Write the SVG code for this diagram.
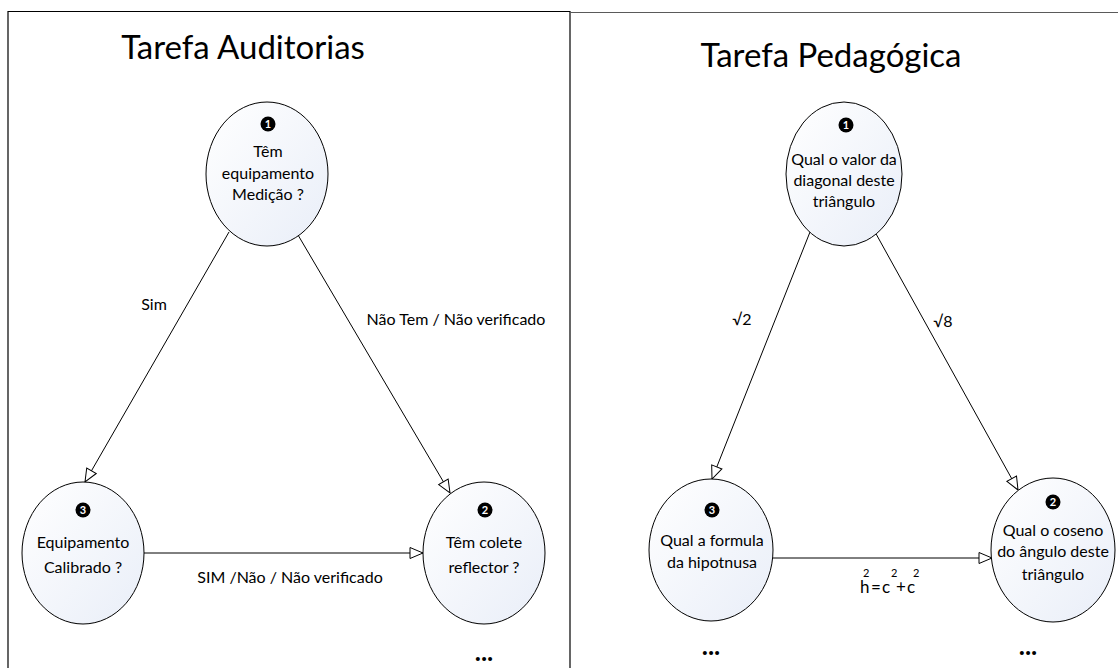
<svg xmlns="http://www.w3.org/2000/svg" width="1118" height="668" viewBox="0 0 1118 668">
  <defs>
    <linearGradient id="nodeFill" x1="0" y1="0" x2="1" y2="1">
      <stop offset="0" stop-color="#ffffff"/>
      <stop offset="1" stop-color="#e9eef8"/>
    </linearGradient>
    <marker id="openArrow" markerUnits="userSpaceOnUse" markerWidth="16" markerHeight="14" refX="14" refY="7" orient="auto">
      <path d="M1,1.5 L14,7 L1,12.5 Z" fill="#ffffff" stroke="#000000" stroke-width="1"/>
    </marker>
    <style>
      .panel { fill: none; stroke: #000000; stroke-width: 1.2; }
      .title { font-family: Lato, "Liberation Sans", sans-serif; font-size: 33px; fill: #000000; text-anchor: middle; }
      .node ellipse { fill: url(#nodeFill); stroke: #000000; stroke-width: 1; }
      .node text { font-family: Lato, "Liberation Sans", sans-serif; font-size: 16px; fill: #000000; text-anchor: middle; }
      .node .badge { fill: #000000; stroke: none; }
      .node text.num { font-size: 11px; font-weight: bold; fill: #ffffff; }
      .edge { stroke: #000000; stroke-width: 1; fill: none; marker-end: url(#openArrow); }
      .label { font-family: Lato, "Liberation Sans", sans-serif; font-size: 16px; fill: #000000; text-anchor: middle; }
      .formula { font-family: Lato, "Liberation Sans", sans-serif; font-size: 17px; fill: #000000; }
      .formula .sup { font-size: 11px; }
      .more { font-family: Lato, "Liberation Sans", sans-serif; font-size: 26px; font-weight: bold; fill: #000000; text-anchor: middle; }
    </style>
  </defs>

  <rect width="1118" height="668" fill="#ffffff"/>

  <!-- panel frames -->
  <path class="panel" d="M8,680 L8,11.5 L570,11.5 L570,680"/>
  <line x1="570" y1="12.5" x2="1118" y2="12.5" stroke="#5a5a5a" stroke-width="1.2"/>

  <text class="title" x="243" y="59">Tarefa Auditorias</text>
  <text class="title" x="831" y="67">Tarefa Pedagógica</text>

  <!-- connectors -->
  <g id="connectors">
    <line class="edge" x1="229" y1="232" x2="85" y2="482"/>
    <line class="edge" x1="298" y1="235" x2="450" y2="493"/>
    <line class="edge" x1="144" y1="553" x2="423" y2="553"/>
    <line class="edge" x1="810" y1="232" x2="712" y2="479"/>
    <line class="edge" x1="875" y1="232" x2="1018" y2="490"/>
    <line class="edge" x1="773" y1="558" x2="992" y2="558"/>

    <text class="label" x="154" y="310">Sim</text>
    <text class="label" x="456" y="325">Não Tem / Não verificado</text>
    <text class="label" x="290" y="583">SIM /Não / Não verificado</text>
    <text class="label" x="742" y="325">√2</text>
    <text class="label" x="943" y="327">√8</text>
    <text class="formula"><tspan x="860" y="593">h</tspan><tspan class="sup" x="863" y="577">2</tspan><tspan x="871" y="593">=</tspan><tspan x="882" y="593">c</tspan><tspan class="sup" x="891" y="577">2</tspan><tspan x="896" y="593">+</tspan><tspan x="907" y="593">c</tspan><tspan class="sup" x="913" y="577">2</tspan></text>
  </g>

  <!-- audit task -->
  <g id="audit-1" class="node">
    <ellipse cx="267" cy="174" rx="61" ry="72"/>
    <circle class="badge" cx="268" cy="124" r="7.5"/>
    <text class="num" x="268" y="128">1</text>
    <text x="268" y="157">Têm</text>
    <text x="268" y="179">equipamento</text>
    <text x="268" y="200">Medição ?</text>
  </g>
  <g id="audit-3" class="node">
    <ellipse cx="83" cy="553" rx="61" ry="71"/>
    <circle class="badge" cx="83" cy="510" r="7.5"/>
    <text class="num" x="83" y="514">3</text>
    <text x="83" y="548">Equipamento</text>
    <text x="83" y="573">Calibrado ?</text>
  </g>
  <g id="audit-2" class="node">
    <ellipse cx="484" cy="553" rx="61" ry="71"/>
    <circle class="badge" cx="485" cy="510" r="7.5"/>
    <text class="num" x="485" y="514">2</text>
    <text x="484" y="548">Têm colete</text>
    <text x="484" y="573">reflector ?</text>
  </g>
  <text class="more" x="484" y="661">...</text>

  <!-- teaching task -->
  <g id="teach-1" class="node">
    <ellipse cx="844" cy="174" rx="58" ry="72"/>
    <circle class="badge" cx="846" cy="125" r="7.5"/>
    <text class="num" x="846" y="129">1</text>
    <text x="844" y="165">Qual o valor da</text>
    <text x="844" y="186">diagonal deste</text>
    <text x="844" y="207">triângulo</text>
  </g>
  <g id="teach-3" class="node">
    <ellipse cx="711" cy="550" rx="62" ry="71"/>
    <circle class="badge" cx="712" cy="510" r="7.5"/>
    <text class="num" x="712" y="514">3</text>
    <text x="712" y="546">Qual a formula</text>
    <text x="712" y="568">da hipotnusa</text>
  </g>
  <g id="teach-2" class="node">
    <ellipse cx="1053" cy="550" rx="62" ry="72"/>
    <circle class="badge" cx="1053" cy="502" r="7.5"/>
    <text class="num" x="1053" y="506">2</text>
    <text x="1053" y="536">Qual o coseno</text>
    <text x="1053" y="557">do ângulo deste</text>
    <text x="1053" y="580">triângulo</text>
  </g>
  <text class="more" x="711" y="655">...</text>
  <text class="more" x="1028" y="655">...</text>
</svg>
